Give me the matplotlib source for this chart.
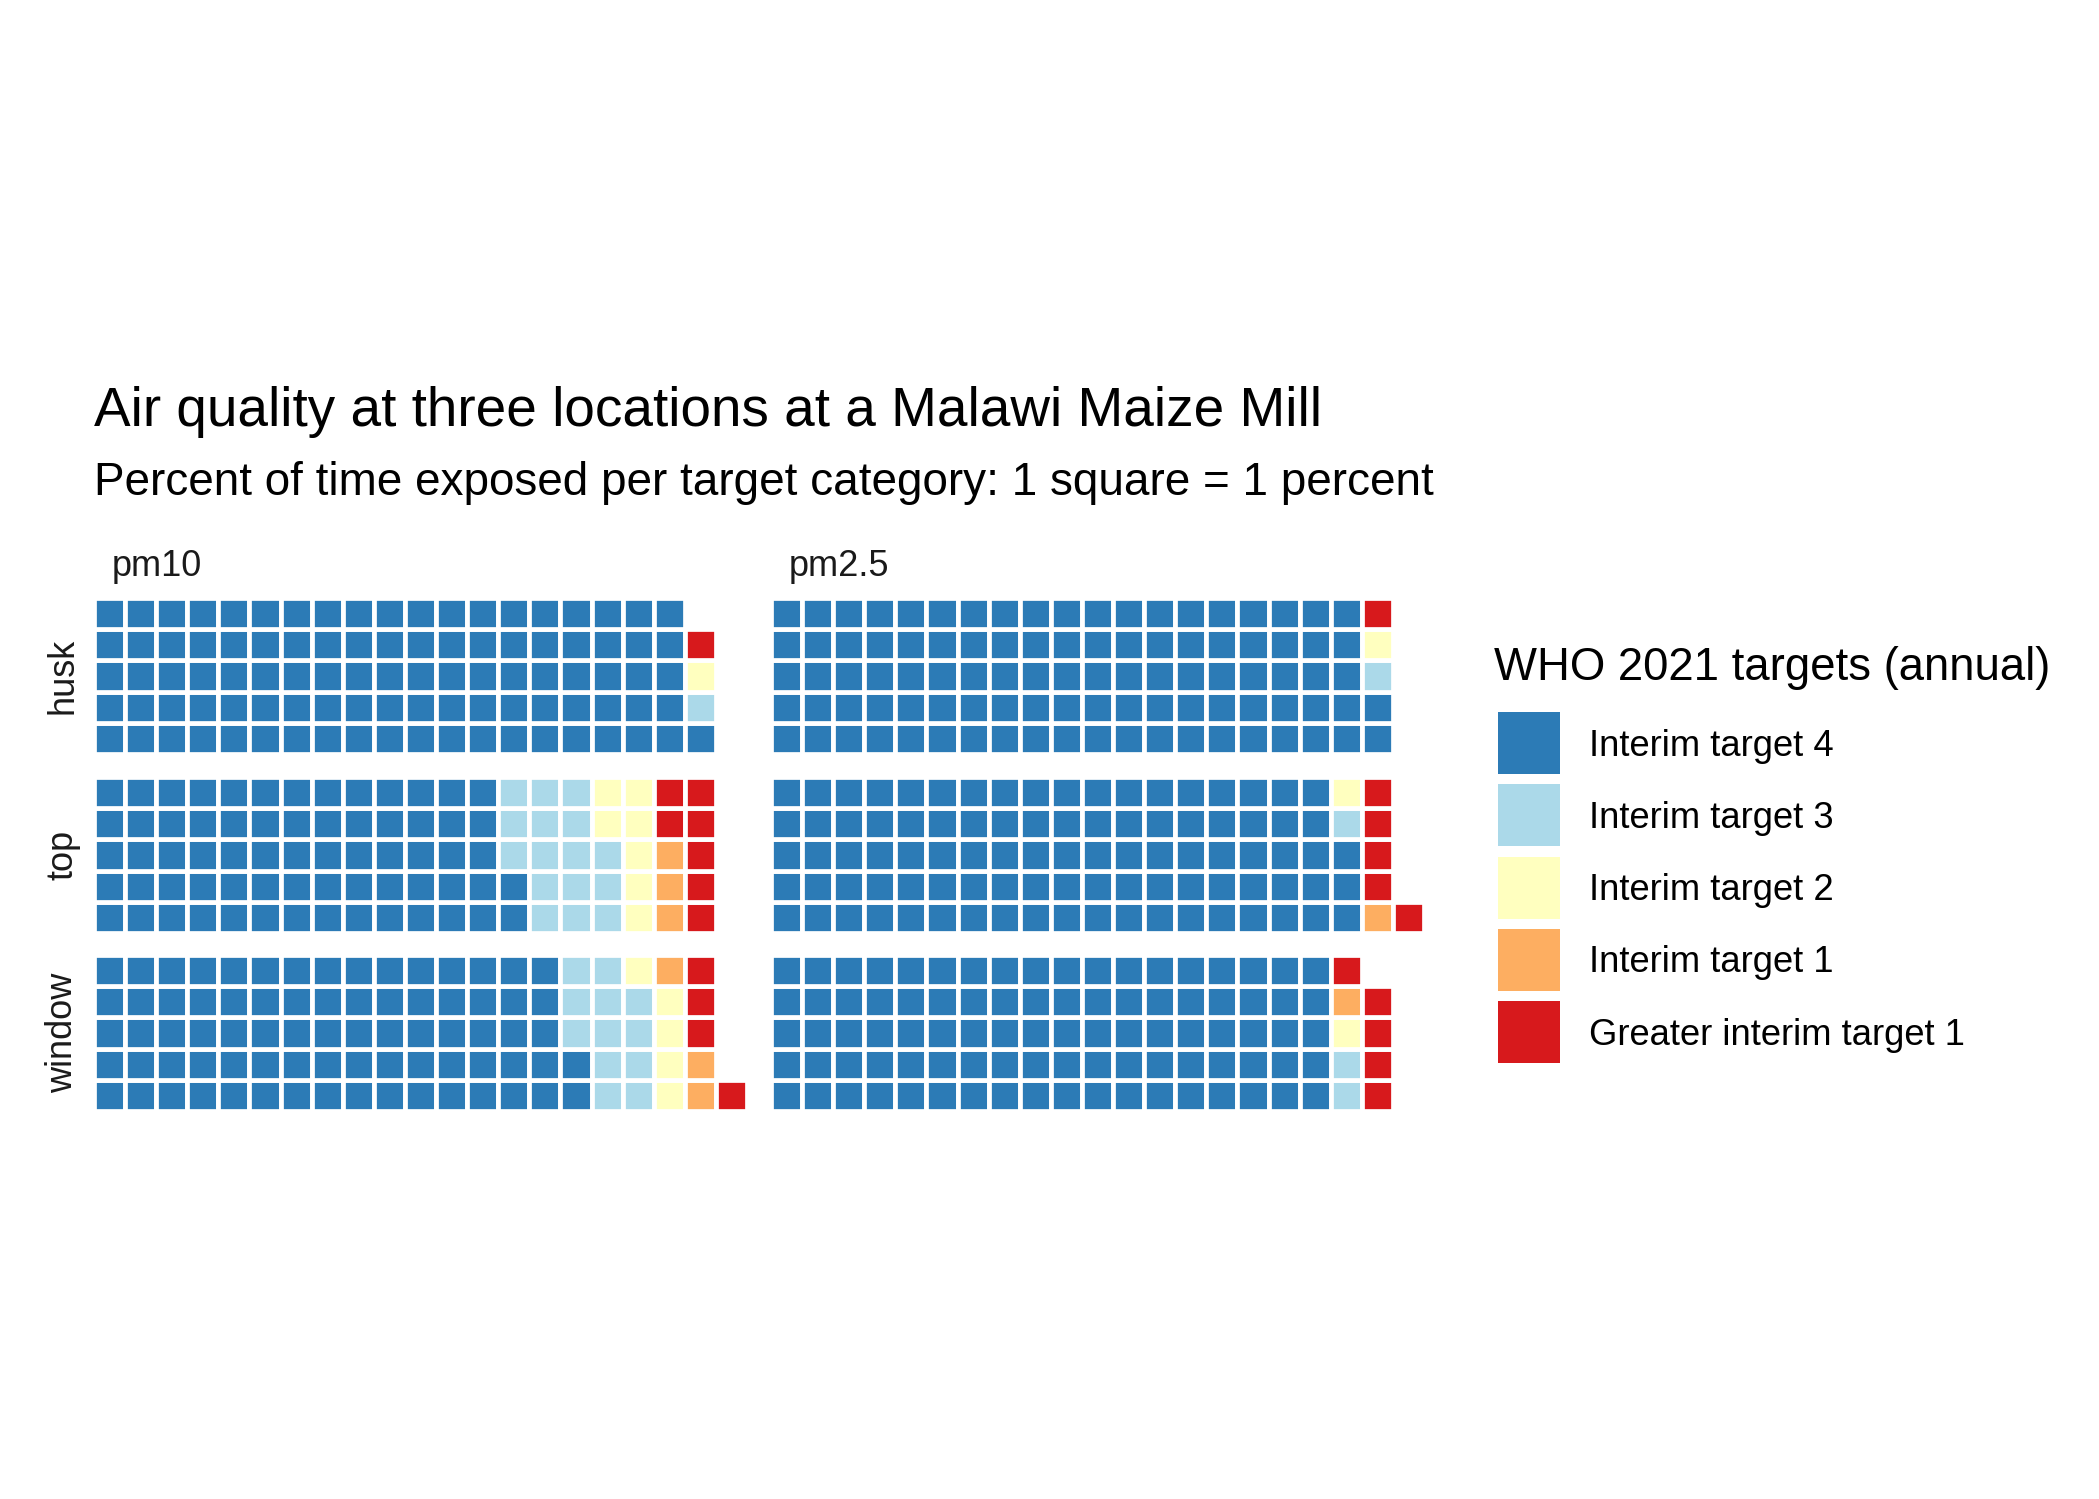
import matplotlib
matplotlib.use('Agg')
import matplotlib.pyplot as plt
from matplotlib.patches import Rectangle

plt.rcParams['font.family'] = ['Liberation Sans', 'DejaVu Sans']

# categories and colours (RdYlBu 5)
categories = ['Interim target 4', 'Interim target 3', 'Interim target 2',
              'Interim target 1', 'Greater interim target 1']
colours = ['#2C7BB6', '#ABD9E9', '#FFFFBF', '#FDAE61', '#D7191C']

locations = ['husk', 'top', 'window']
pollutants = ['pm10', 'pm2.5']

# percent of time per category (IT4, IT3, IT2, IT1, >IT1)
husk_pm10 = [96, 1, 1, 0, 1]
husk_pm25 = [97, 1, 1, 0, 1]
top_pm10 = [67, 16, 7, 3, 7]
top_pm25 = [93, 1, 1, 1, 5]
window_pm10 = [77, 12, 5, 3, 4]
window_pm25 = [90, 2, 1, 1, 5]

counts = {('husk', 'pm10'): husk_pm10, ('husk', 'pm2.5'): husk_pm25,
          ('top', 'pm10'): top_pm10, ('top', 'pm2.5'): top_pm25,
          ('window', 'pm10'): window_pm10, ('window', 'pm2.5'): window_pm25}

n_rows = 5
n_cols = 21

W, H = 2099, 1499
fig = plt.figure(figsize=(W / 100, H / 100), dpi=100)

# panel layout in pixels
col_left = [94, 771]
row_top = [598, 777, 955]
pw, ph = 653, 156


def waffle(ax, vals):
    # fill column by column, bottom to top
    xs, ys, cs = [], [], []
    k = 0
    for v, c in zip(vals, colours):
        for i in range(v):
            xs.append(k // n_rows + 1)
            ys.append(k % n_rows + 1)
            cs.append(c)
            k += 1
    ax.bar(xs, 1, width=1, bottom=[y - 0.5 for y in ys], color=cs,
           edgecolor='white', linewidth=3.4)
    ax.set_xlim(0.5, n_cols + 0.5)
    ax.set_ylim(0.5, n_rows + 0.5)
    ax.axis('off')


for r, loc in enumerate(locations):
    for c, pol in enumerate(pollutants):
        ax = fig.add_axes([col_left[c] / W, 1 - (row_top[r] + ph) / H, pw / W, ph / H])
        waffle(ax, counts[(loc, pol)])
        ax.patch.set_alpha(0)
    fig.text(63 / W, 1 - (row_top[r] + ph / 2) / H, loc, rotation=90,
             ha='center', va='center', fontsize=26, color='#1A1A1A')

for c, pol in enumerate(pollutants):
    fig.text((col_left[c] + 18) / W, 1 - 567 / H, pol, ha='left', va='center',
             fontsize=26, color='#1A1A1A')

fig.text(94 / W, 1 - 412 / H, 'Air quality at three locations at a Malawi Maize Mill',
         ha='left', va='center', fontsize=39.5)
fig.text(94 / W, 1 - 483 / H, 'Percent of time exposed per target category: 1 square = 1 percent',
         ha='left', va='center', fontsize=33)

# legend
lax = fig.add_axes([0, 0, 1, 1])
lax.set_xlim(0, W)
lax.set_ylim(H, 0)
lax.axis('off')
lax.patch.set_alpha(0)
lax.text(1494, 668, 'WHO 2021 targets (annual)', ha='left', va='center', fontsize=32.8)
for i, (lab, col) in enumerate(zip(categories, colours)):
    y0 = 712 + i * 72.3
    lax.add_patch(Rectangle((1498, y0), 62, 62, facecolor=col, edgecolor='none'))
    lax.text(1589, y0 + 34, lab, ha='left', va='center', fontsize=26.2)

fig.savefig('out.png', dpi=100, facecolor='white')
